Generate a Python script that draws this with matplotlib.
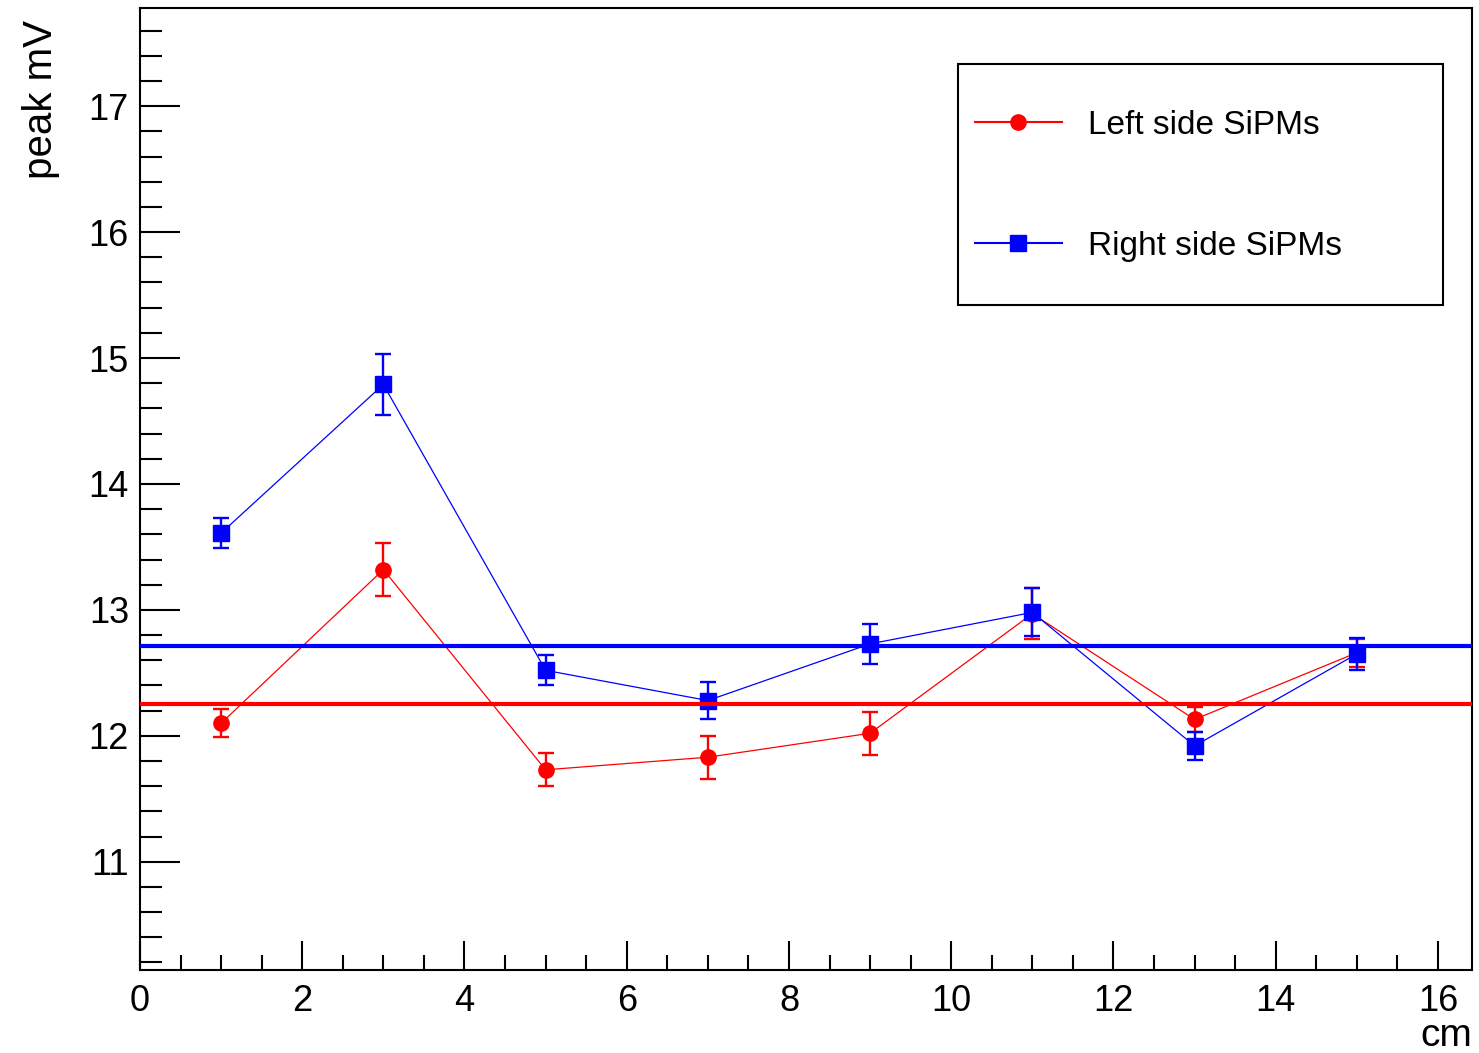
import matplotlib

matplotlib.use("Agg")
import matplotlib.pyplot as plt
from matplotlib.patches import Rectangle
from matplotlib.ticker import MultipleLocator

# positions along the bar (cm)
x_cm = [1, 3, 5, 7, 9, 11, 13, 15]

# peak amplitude (mV) and errors
left_peak = [12.10, 13.32, 11.73, 11.83, 12.02, 12.97, 12.13, 12.66]
left_err = [0.11, 0.21, 0.13, 0.17, 0.17, 0.20, 0.10, 0.11]
right_peak = [13.61, 14.79, 12.52, 12.28, 12.73, 12.98, 11.92, 12.65]
right_err = [0.12, 0.24, 0.12, 0.15, 0.16, 0.19, 0.11, 0.13]

# constant fits drawn across the whole range
left_fit = 12.25
right_fit = 12.71

RED = "#ff0000"
BLUE = "#0000ff"
W, H = 1479, 1053

plt.rcParams.update(
    {
        "font.family": ["Liberation Sans", "DejaVu Sans"],
        "axes.linewidth": 1.5,
        "figure.facecolor": "white",
    }
)

fig = plt.figure(figsize=(W / 100, H / 100), dpi=100)
ax = fig.add_axes([140 / W, 1 - 970 / H, 1332 / W, 962 / H])

left = ax.errorbar(
    x_cm, left_peak, yerr=left_err, color=RED, lw=0.9, marker="o", ms=11,
    elinewidth=1.7, capsize=5.5, capthick=1.7, zorder=3,
)
right = ax.errorbar(
    x_cm, right_peak, yerr=right_err, color=BLUE, lw=0.9, marker="s", ms=12,
    elinewidth=1.7, capsize=5.5, capthick=1.7, zorder=4,
)
ax.axhline(left_fit, color=RED, lw=3, zorder=5)
ax.axhline(right_fit, color=BLUE, lw=3, zorder=5)

ax.set_xlim(0, 16.42)
ax.set_ylim(10.14, 17.78)

ax.xaxis.set_major_locator(MultipleLocator(2))
ax.xaxis.set_minor_locator(MultipleLocator(0.5))
ax.yaxis.set_major_locator(MultipleLocator(1))
ax.yaxis.set_minor_locator(MultipleLocator(0.2))
ax.tick_params(axis="x", which="major", direction="in", length=21, width=1.5,
               labelsize=26, pad=10, top=False)
ax.tick_params(axis="x", which="minor", direction="in", length=11, width=1.5, top=False)
ax.tick_params(axis="y", which="major", direction="in", length=29, width=1.5,
               labelsize=26, pad=8, right=False)
ax.tick_params(axis="y", which="minor", direction="in", length=16, width=1.5, right=False)
ax.yaxis.set_major_formatter(lambda v, _: f"{v:g}")

ax.set_xlabel("cm", fontsize=28, loc="right")
ax.xaxis.set_label_coords(1.0, -(1046 - 970) / 962, transform=ax.transAxes)
ax.xaxis.label.set_va("baseline")
ax.set_ylabel("peak mV", fontsize=29, loc="top")
ax.yaxis.set_label_coords(-(140 - 22) / 1332, 1 - (20 - 8) / 962)
ax.yaxis.label.set_va("top")

# ROOT-style legend box, markers + line only (no error bars)
fig.patches.append(
    Rectangle((958 / W, 1 - 305 / H), 485 / W, 241 / H, transform=fig.transFigure,
              fill=False, edgecolor="black", lw=1.5)
)
leg = ax.legend(
    [left[0], right[0]],
    ["Left side SiPMs", "Right side SiPMs"],
    loc="upper left",
    bbox_to_anchor=(975 / W, 1 - 110 / H),
    bbox_transform=fig.transFigure,
    fontsize=24,
    frameon=False,
    borderpad=0,
    borderaxespad=0,
    labelspacing=2.69,
    handlelength=2.6,
    handletextpad=0.8,
)
for h in leg.legend_handles:
    h.set_linewidth(1.5)

fig.savefig("out.png", dpi=100)
